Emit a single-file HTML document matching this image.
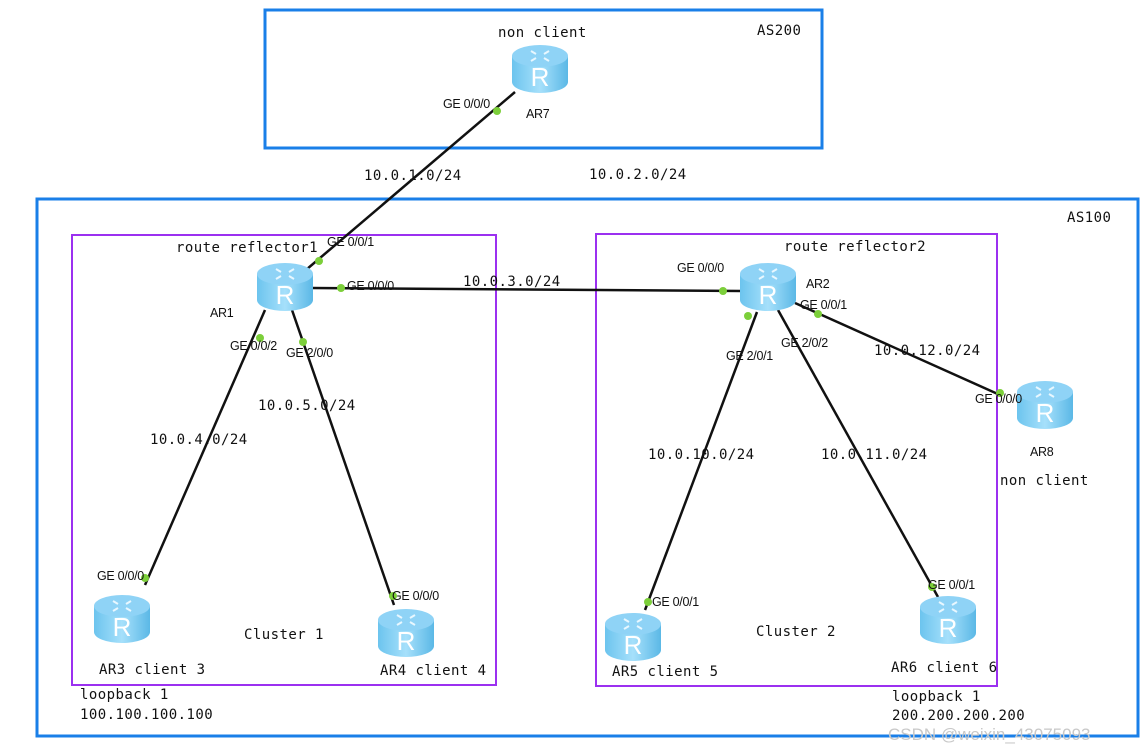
<!DOCTYPE html>
<html><head><meta charset="utf-8"><style>
html,body{margin:0;padding:0;background:#fff;}
svg{display:block}
.m{font-family:"DejaVu Sans Mono","Liberation Mono",monospace;font-size:14px;letter-spacing:0.45px;fill:#111}
.g{font-family:"Liberation Sans",sans-serif;font-size:12.5px;letter-spacing:-0.3px;fill:#111}
</style></head><body>
<svg width="1148" height="751" viewBox="0 0 1148 751" xmlns="http://www.w3.org/2000/svg">
<defs>
<linearGradient id="rg" x1="0" x2="1" y1="0" y2="0">
<stop offset="0" stop-color="#6cc4ee"/><stop offset="0.5" stop-color="#a6e0fb"/><stop offset="1" stop-color="#5bb8e6"/>
</linearGradient>
<g id="r">
<path d="M-28,-12 L-28,14 A28,11 0 0 0 28,14 L28,-12 Z" fill="url(#rg)"/>
<ellipse cx="0" cy="-12" rx="28" ry="11" fill="#8fd3f6"/>
<path d="M-9,-17 l5,3 M9,-17 l-5,3 M-9,-7 l5,-3 M9,-7 l-5,-3" stroke="#e8f7ff" stroke-width="2"/>
<text x="0" y="18" text-anchor="middle" font-family="Liberation Sans,sans-serif" font-size="26" fill="#fff">R</text>
</g>
</defs>
<rect x="265" y="10" width="557" height="138" fill="none" stroke="#1a7fe8" stroke-width="3"/>
<rect x="37" y="199" width="1101" height="537" fill="none" stroke="#1a7fe8" stroke-width="3"/>
<rect x="72" y="235" width="424" height="450" fill="none" stroke="#9b30f0" stroke-width="2"/>
<rect x="596" y="234" width="401" height="452" fill="none" stroke="#9b30f0" stroke-width="2"/>
<g stroke="#111" stroke-width="2.5">
<line x1="515" y1="92" x2="300" y2="275"/>
<line x1="312" y1="288" x2="742" y2="291"/>
<line x1="265" y1="310" x2="145" y2="585"/>
<line x1="292" y1="310" x2="394" y2="605"/>
<line x1="757" y1="312" x2="645" y2="610"/>
<line x1="778" y1="310" x2="938" y2="597"/>
<line x1="795" y1="303" x2="1000" y2="395"/>
</g>
<use href="#r" x="540" y="68"/>
<use href="#r" x="285" y="286"/>
<use href="#r" x="768" y="286"/>
<use href="#r" x="122" y="618"/>
<use href="#r" x="406" y="632"/>
<use href="#r" x="633" y="636"/>
<use href="#r" x="948" y="619"/>
<use href="#r" x="1045" y="404"/>
<g fill="#7ccf3a">
<circle cx="497" cy="111" r="4"/><circle cx="319" cy="261" r="4"/><circle cx="341" cy="288" r="4"/><circle cx="723" cy="291" r="4"/>
<circle cx="260" cy="338" r="4"/><circle cx="303" cy="342" r="4"/><circle cx="748" cy="316" r="4"/><circle cx="818" cy="314" r="4"/>
<circle cx="1000" cy="393" r="4"/><circle cx="145" cy="578" r="4"/><circle cx="393" cy="596" r="4"/><circle cx="648" cy="602" r="4"/><circle cx="932" cy="587" r="4"/>
</g>
<text class="m" x="498" y="37">non client</text>
<text class="m" x="757" y="35">AS200</text>
<text class="g" x="526" y="118">AR7</text>
<text class="g" x="443" y="108">GE 0/0/0</text>
<text class="m" x="364" y="180">10.0.1.0/24</text>
<text class="m" x="589" y="179">10.0.2.0/24</text>
<text class="m" x="1067" y="222">AS100</text>
<text class="m" x="176" y="252">route reflector1</text>
<text class="g" x="327" y="246">GE 0/0/1</text>
<text class="g" x="347" y="290">GE 0/0/0</text>
<text class="g" x="210" y="317">AR1</text>
<text class="g" x="230" y="350">GE 0/0/2</text>
<text class="g" x="286" y="357">GE 2/0/0</text>
<text class="m" x="258" y="410">10.0.5.0/24</text>
<text class="m" x="150" y="444">10.0.4.0/24</text>
<text class="m" x="463" y="286">10.0.3.0/24</text>
<text class="g" x="97" y="580">GE 0/0/0</text>
<text class="g" x="392" y="600">GE 0/0/0</text>
<text class="m" x="244" y="639">Cluster 1</text>
<text class="m" x="99" y="674">AR3 client 3</text>
<text class="m" x="380" y="675">AR4 client 4</text>
<text class="m" x="80" y="699">loopback 1</text>
<text class="m" x="80" y="719">100.100.100.100</text>
<text class="m" x="784" y="251">route reflector2</text>
<text class="g" x="677" y="272">GE 0/0/0</text>
<text class="g" x="806" y="288">AR2</text>
<text class="g" x="800" y="309">GE 0/0/1</text>
<text class="g" x="726" y="360">GE 2/0/1</text>
<text class="g" x="781" y="347">GE 2/0/2</text>
<text class="m" x="874" y="355">10.0.12.0/24</text>
<text class="g" x="975" y="403">GE 0/0/0</text>
<text class="g" x="1030" y="456">AR8</text>
<text class="m" x="1000" y="485">non client</text>
<text class="m" x="648" y="459">10.0.10.0/24</text>
<text class="m" x="821" y="459">10.0.11.0/24</text>
<text class="g" x="928" y="589">GE 0/0/1</text>
<text class="g" x="652" y="606">GE 0/0/1</text>
<text class="m" x="756" y="636">Cluster 2</text>
<text class="m" x="612" y="676">AR5 client 5</text>
<text class="m" x="891" y="672">AR6 client 6</text>
<text class="m" x="892" y="701">loopback 1</text>
<text class="m" x="892" y="720">200.200.200.200</text>
<text x="888" y="740" font-family="Liberation Sans,sans-serif" font-size="17" fill="#c8c8c8">CSDN @weixin_43075093</text>
</svg>
</body></html>
